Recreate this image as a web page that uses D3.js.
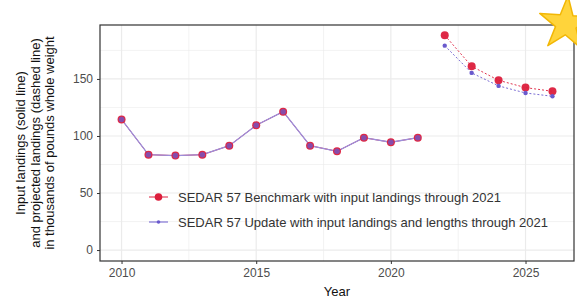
<!DOCTYPE html>
<html>
<head>
<meta charset="utf-8">
<script src="https://cdn.jsdelivr.net/npm/d3@7"></script>
<style>
  body { margin: 0; background: #fff; }
  text { font-family: "Liberation Sans", Arial, sans-serif; }
</style>
</head>
<body>
<div id="chart"></div>
<script>
/* -----------------    DATA     ------------------ */
const years = [2010, 2011, 2012, 2013, 2014, 2015, 2016, 2017, 2018, 2019, 2020, 2021];
const inputLandings = [114.5, 83.6, 82.8, 83.6, 91.5, 109.4, 121.3, 91.5, 86.6, 98.5, 94.5, 98.5];

const projYears = [2022, 2023, 2024, 2025, 2026];
const benchmarkProj = [188.3, 161.1, 148.8, 142.4, 139.2];
const updateProj = [179.2, 155.3, 143.9, 137.7, 134.8];

const xTicks = [2010, 2015, 2020, 2025];
const yTicks = [0, 50, 100, 150];
const seriesNames = [
    'SEDAR 57 Benchmark with input landings through 2021',
    'SEDAR 57 Update with input landings and lengths through 2021'
];

/* -----------------    SETTINGS     ------------------ */
const settings = {
    width: 577,
    height: 301,
    left: 100,
    right: 574,
    top: 25,
    bottom: 261,
    red: '#DC1E3C',
    blue: '#6A5ACD',
    grid: '#EBEBEB',
    text: '#4D4D4D'
};

/* -----------------    CHART     ------------------ */
const svg = d3.select('#chart')
    .append('svg')
    .attr('width', settings.width)
    .attr('height', settings.height);

const x = d3.scaleLinear()
    .domain([2009.2, 2026.8])
    .range([settings.left, settings.right]);

const y = d3.scaleLinear()
    .domain([-9.6, 197.3])
    .range([settings.bottom, settings.top]);

// grid
const grid = svg.append('g');
[12.5 * 2 - 0, 75, 125, 175].forEach(v => {
    grid.append('line')
        .attr('x1', settings.left).attr('x2', settings.right)
        .attr('y1', y(v)).attr('y2', y(v))
        .attr('stroke', settings.grid).attr('stroke-width', 0.6);
});
[2012.5, 2017.5, 2022.5].forEach(v => {
    grid.append('line')
        .attr('y1', settings.top).attr('y2', settings.bottom)
        .attr('x1', x(v)).attr('x2', x(v))
        .attr('stroke', settings.grid).attr('stroke-width', 0.6);
});
yTicks.forEach(v => {
    grid.append('line')
        .attr('x1', settings.left).attr('x2', settings.right)
        .attr('y1', y(v)).attr('y2', y(v))
        .attr('stroke', settings.grid).attr('stroke-width', 1.2);
});
xTicks.forEach(v => {
    grid.append('line')
        .attr('y1', settings.top).attr('y2', settings.bottom)
        .attr('x1', x(v)).attr('x2', x(v))
        .attr('stroke', settings.grid).attr('stroke-width', 1.2);
});

// axes
const xAxis = svg.append('g')
    .attr('transform', `translate(0, ${settings.bottom})`)
    .call(d3.axisBottom(x).tickValues(xTicks).tickFormat(d3.format('d')).tickSize(3).tickPadding(4));

const yAxis = svg.append('g')
    .attr('transform', `translate(${settings.left}, 0)`)
    .call(d3.axisLeft(y).tickValues(yTicks).tickSize(3).tickPadding(4));

[xAxis, yAxis].forEach(a => {
    a.select('.domain').remove();
    a.selectAll('line').attr('stroke', '#333');
    a.selectAll('text')
        .attr('fill', settings.text)
        .style('font-size', '12px')
        .style('font-family', '"Liberation Sans", Arial, sans-serif');
});

// panel border
svg.append('rect')
    .attr('x', settings.left)
    .attr('y', settings.top)
    .attr('width', settings.right - settings.left)
    .attr('height', settings.bottom - settings.top)
    .attr('fill', 'none')
    .attr('stroke', '#333')
    .attr('stroke-width', 1.2);

// lines
const line = d3.line()
    .x(d => x(d[0]))
    .y(d => y(d[1]));

const hist = years.map((yr, i) => [yr, inputLandings[i]]);
const bench = projYears.map((yr, i) => [yr, benchmarkProj[i]]);
const upd = projYears.map((yr, i) => [yr, updateProj[i]]);

svg.append('path')
    .datum(hist)
    .attr('d', line)
    .attr('fill', 'none')
    .attr('stroke', settings.red)
    .attr('stroke-width', 1);

svg.append('path')
    .datum(hist)
    .attr('d', line)
    .attr('fill', 'none')
    .attr('stroke', '#9C8FDB')
    .attr('stroke-width', 1.3);

svg.append('path')
    .datum(bench)
    .attr('d', line)
    .attr('fill', 'none')
    .attr('stroke', settings.red)
    .attr('stroke-width', 0.9)
    .attr('stroke-dasharray', '2,2');

svg.append('path')
    .datum(upd)
    .attr('d', line)
    .attr('fill', 'none')
    .attr('stroke', settings.blue)
    .attr('stroke-width', 0.9)
    .attr('stroke-dasharray', '2,2');

// points
svg.append('g')
    .selectAll('circle')
    .data(hist.concat(bench))
    .enter()
    .append('circle')
    .attr('cx', d => x(d[0]))
    .attr('cy', d => y(d[1]))
    .attr('r', 4)
    .attr('fill', settings.red)
    .attr('fill-opacity', 0.95);

svg.append('g')
    .selectAll('circle')
    .data(hist)
    .enter()
    .append('circle')
    .attr('cx', d => x(d[0]))
    .attr('cy', d => y(d[1]))
    .attr('r', 2.8)
    .attr('fill', settings.blue)
    .attr('fill-opacity', 0.75);

svg.append('g')
    .selectAll('circle')
    .data(upd)
    .enter()
    .append('circle')
    .attr('cx', d => x(d[0]))
    .attr('cy', d => y(d[1]))
    .attr('r', 2.2)
    .attr('fill', settings.blue);

// legend
const legend = svg.append('g');
seriesNames.forEach((name, i) => {
    const ly = 197 + i * 25;
    const col = i === 0 ? settings.red : settings.blue;
    legend.append('line')
        .attr('x1', 149).attr('x2', 168)
        .attr('y1', ly).attr('y2', ly)
        .attr('stroke', col).attr('stroke-width', 1);
    legend.append('circle')
        .attr('cx', 158.5).attr('cy', ly)
        .attr('r', i === 0 ? 3.8 : 1.8)
        .attr('fill', col);
    legend.append('text')
        .attr('x', 178)
        .attr('y', ly + 4.5)
        .attr('fill', '#333')
        .style('font-size', '13px')
        .text(name);
});

// axis titles
svg.append('text')
    .attr('x', (settings.left + settings.right) / 2)
    .attr('y', 296)
    .attr('text-anchor', 'middle')
    .attr('fill', '#111')
    .style('font-size', '13px')
    .text('Year');

const yTitle = ['Input landings (solid line)', 'and projected landings (dashed line)', 'in thousands of pounds whole weight'];
yTitle.forEach((t, i) => {
    svg.append('text')
        .attr('transform', `translate(${25 + i * 14.5}, ${(settings.top + settings.bottom) / 2}) rotate(-90)`)
        .attr('text-anchor', 'middle')
        .attr('fill', '#111')
        .style('font-size', '13px')
        .text(t);
});

// star decoration
svg.append('path')
    .attr('transform', 'translate(566, 24) rotate(4)')
    .attr('d', d3.symbol().type(d3.symbolStar).size(900)())
    .attr('fill', '#FFD43B')
    .attr('stroke', '#F2B705')
    .attr('stroke-width', 1.5)
    .attr('stroke-linejoin', 'round');
</script>
</body>
</html>
